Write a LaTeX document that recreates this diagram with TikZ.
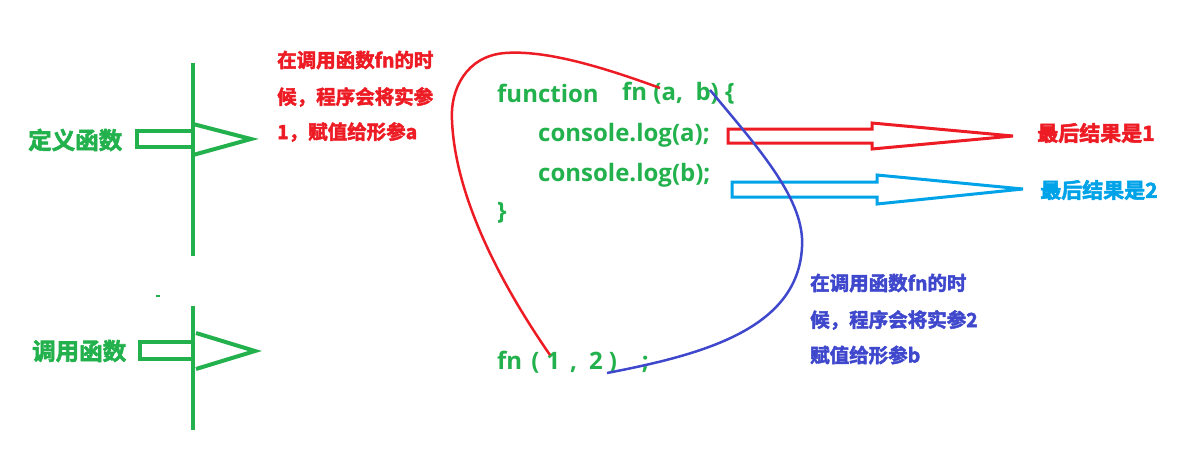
\documentclass[tikz,border=0pt]{standalone}
\usepackage{fontspec}
\newfontfamily\cjk{Noto Sans CJK SC Bold}[FakeBold=2.5]
\newfontfamily\code{Open Sans Bold}
\definecolor{pgreen}{HTML}{22B14C}
\definecolor{pred}{HTML}{ED1C24}
\definecolor{pblue}{HTML}{00A2E8}
\definecolor{pindigo}{HTML}{3F48CC}
\tikzset{
  gline/.style={draw=pgreen, line width=4pt},
  glabel/.style={anchor=west, inner sep=0pt, text=pgreen, font=\cjk\fontsize{23.5}{23.5}\selectfont},
  note/.style={anchor=west, inner sep=0pt, font=\cjk\fontsize{19.5}{19.5}\selectfont},
  codetxt/.style={anchor=west, inner sep=0pt, text=pgreen, font=\code\fontsize{24}{24}\selectfont},
  bigarrow/.style={line width=3pt, line join=miter},
  curve/.style={line width=2.5pt}
}
\begin{document}
\begin{tikzpicture}[x=1pt,y=-1pt]
\useasboundingbox (0,0) rectangle (1191,467);
% left vertical lines
\coordinate (v1t) at (193,63); \coordinate (v1b) at (193,256);
\coordinate (v2t) at (193,306); \coordinate (v2b) at (193,430);
\draw[gline] (v1t) -- (v1b);
\draw[gline] (v2t) -- (v2b);
\fill[pgreen] (156,295) rectangle (160,297);
% arrow 1
\draw[gline] (193,131) -- (137,131) -- (137,147) -- (193,147);
\draw[gline, line join=miter] (193,124) -- (251,139) -- (193,155);
% arrow 2
\draw[gline] (194,342) -- (140,342) -- (140,359) -- (194,359);
\draw[gline, line join=miter] (196,333) -- (255,351) -- (196,369);
\node[glabel] (def) at (28,140) {定义函数};
\node[glabel] (call) at (32,351) {调用函数};
% red note
\node[note, text=pred] (r1) at (277,60) {在调用函数fn的时};
\node[note, text=pred] (r2) at (277,97) {候，程序会将实参};
\node[note, text=pred] (r3) at (277,132) {1，赋值给形参a};
% indigo note
\node[note, text=pindigo] (b1) at (810,283) {在调用函数fn的时};
\node[note, text=pindigo] (b2) at (810,320) {候，程序会将实参2};
\node[note, text=pindigo] (b3) at (810,355) {赋值给形参b};
% code
\node[codetxt] (fun) at (497,93) {function};
\node[codetxt] (sig) at (622,93) {fn (a,\ \ b) \{};
\node[codetxt] (cla) at (538,135) {console.log(a);};
\node[codetxt] (clb) at (538,175) {console.log(b);};
\node[codetxt] (brace) at (497,213) {\}};
\node[codetxt] (callfn) at (497,362) {fn\hspace{9pt}(\hspace{7pt}1\hspace{10pt},\hspace{12pt}2\hspace{6pt})\hspace{25pt};};
% result arrows
\draw[bigarrow, draw=pred] (872,129) -- (728,129) -- (728,143) -- (872,143) -- (872,149) -- (1013,136) -- (872,123) -- cycle;
\draw[bigarrow, draw=pblue] (877,182) -- (732,182) -- (732,197) -- (877,197) -- (877,204) -- (1023,189) -- (877,175) -- cycle;
\node[note, text=pred, font=\cjk\fontsize{21}{21}\selectfont] (res1) at (1037,133) {最后结果是1};
\node[note, text=pblue, font=\cjk\fontsize{21}{21}\selectfont] (res2) at (1040,190) {最后结果是2};
% curves
\coordinate (ra) at (660,88);
\coordinate (r1p) at (550,355);
\draw[curve, pred] (ra) .. controls (600,66) and (545,50) .. (505,53)
  .. controls (466,56) and (450,90) .. (452,120)
  .. controls (455,200) and (505,290) .. (r1p);
\coordinate (bb) at (710,90);
\coordinate (b2p) at (607,373);
\draw[curve, pindigo] (bb) .. controls (760,150) and (805,200) .. (802,247)
  .. controls (798,330) and (700,355) .. (b2p);
\end{tikzpicture}
\end{document}
